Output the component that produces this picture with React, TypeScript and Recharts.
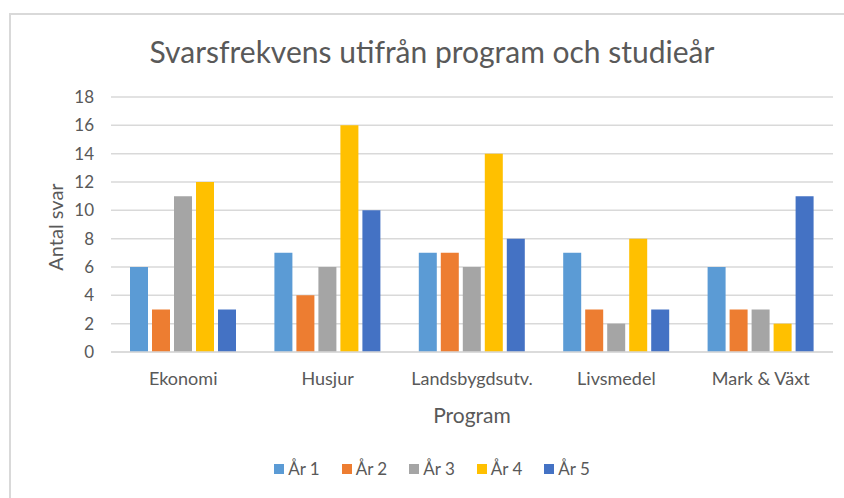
import { BarChart, Bar, XAxis, YAxis, CartesianGrid } from 'recharts';

const programs = ['Ekonomi', 'Husjur', 'Landsbygdsutv.', 'Livsmedel', 'Mark & Växt'];
const ar1 = [6, 7, 7, 7, 6];
const ar2 = [3, 4, 7, 3, 3];
const ar3 = [11, 6, 6, 2, 3];
const ar4 = [12, 16, 14, 8, 2];
const ar5 = [3, 10, 8, 3, 11];
const yTicks = [0, 2, 4, 6, 8, 10, 12, 14, 16, 18];

const seriesNames = ['År 1', 'År 2', 'År 3', 'År 4', 'År 5'];
const colors = ['#5B9BD5', '#ED7D31', '#A5A5A5', '#FFC000', '#4472C4'];

const data = programs.map((p, i) => ({
  program: p,
  'År 1': ar1[i],
  'År 2': ar2[i],
  'År 3': ar3[i],
  'År 4': ar4[i],
  'År 5': ar5[i],
}));

const font = 'Lato, "Noto Sans", sans-serif';
const textColor = '#595959';

export default function App() {
  return (
    <div style={{ position: 'fixed', left: 0, top: 0, width: 844, height: 498, background: '#fff', overflow: 'hidden' }}>
      <div
        style={{
          position: 'absolute',
          left: 9,
          top: 13,
          width: 860,
          height: 520,
          border: '2px solid #d9d9d9',
        }}
      />
      <div
        style={{
          position: 'absolute',
          left: 0,
          width: 864,
          top: 33,
          lineHeight: '36px',
          textAlign: 'center',
          fontFamily: font,
          fontSize: 30,
          color: textColor,
        }}
      >
        Svarsfrekvens utifrån program och studieår
      </div>
      <div
        style={{
          position: 'absolute',
          left: 55,
          top: 227,
          transform: 'translate(-50%, -50%) rotate(-90deg)',
          fontFamily: font,
          fontSize: 20,
          color: textColor,
          whiteSpace: 'nowrap',
        }}
      >
        Antal svar
      </div>
      <div
        style={{
          position: 'absolute',
          left: 472,
          top: 414,
          transform: 'translate(-50%, -50%)',
          fontFamily: font,
          fontSize: 21,
          color: textColor,
        }}
      >
        Program
      </div>
      <div style={{ position: 'absolute', left: 0, top: 0 }}>
        <BarChart
          width={844}
          height={498}
          data={data}
          margin={{ top: 97, right: 11, left: 71, bottom: 116 }}
          barCategoryGap={19}
          barGap={4}
        >
          <CartesianGrid vertical={false} stroke="#d9d9d9" strokeWidth={1.5} />
          <XAxis
            dataKey="program"
            axisLine={{ stroke: '#d9d9d9', strokeWidth: 1.5 }}
            tickLine={false}
            tick={{ fontFamily: font, fontSize: 18, fill: textColor }}
            tickMargin={14}
            interval={0}
            height={30}
          />
          <YAxis
            width={40}
            domain={[0, 18]}
            ticks={yTicks}
            axisLine={false}
            tickLine={false}
            tick={{ fontFamily: font, fontSize: 17, fill: textColor }}
            tickMargin={11}
          />
          {seriesNames.map((n, i) => (
            <Bar key={n} dataKey={n} fill={colors[i]} isAnimationActive={false} />
          ))}
        </BarChart>
      </div>
      <div
        style={{
          position: 'absolute',
          left: 0,
          width: 864,
          top: 458,
          display: 'flex',
          justifyContent: 'center',
          fontFamily: font,
          fontSize: 17,
          color: textColor,
        }}
      >
        {seriesNames.map((n, i) => (
          <div key={n} style={{ display: 'flex', alignItems: 'center', marginRight: i < 4 ? 22 : 0 }}>
            <span style={{ width: 10, height: 10, background: colors[i], display: 'inline-block', marginRight: 4 }} />
            <span>{n}</span>
          </div>
        ))}
      </div>
    </div>
  );
}
